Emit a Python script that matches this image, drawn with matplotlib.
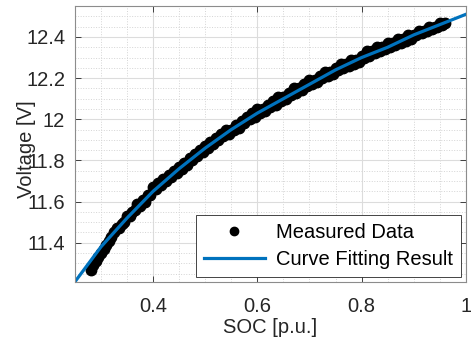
import numpy as np
import matplotlib
matplotlib.use("Agg")
import matplotlib.pyplot as plt
from matplotlib.ticker import MultipleLocator, FormatStrFormatter

plt.rcParams['font.family'] = ['Liberation Sans', 'DejaVu Sans']

# measured data (SOC, voltage), upper row of the band
soc_meas = [0.28, 0.29, 0.30, 0.31, 0.32, 0.33, 0.34, 0.35, 0.36, 0.37,
            0.38, 0.39, 0.40, 0.41, 0.42, 0.43, 0.44, 0.45, 0.46, 0.47,
            0.48, 0.49, 0.50, 0.51, 0.52, 0.53, 0.54, 0.55, 0.56, 0.57,
            0.58, 0.59, 0.60, 0.61, 0.62, 0.63, 0.64, 0.65, 0.66, 0.67,
            0.68, 0.69, 0.70, 0.71, 0.72, 0.73, 0.74, 0.75, 0.76, 0.77,
            0.78, 0.79, 0.80, 0.81, 0.82, 0.83, 0.84, 0.85, 0.86, 0.87,
            0.88, 0.89, 0.90, 0.91, 0.92, 0.93, 0.94, 0.95, 0.96]
v_meas = [11.27, 11.31, 11.35, 11.39, 11.43, 11.47, 11.49, 11.53, 11.55, 11.59,
          11.61, 11.63, 11.67, 11.69, 11.71, 11.73, 11.75, 11.77, 11.79, 11.81,
          11.83, 11.85, 11.87, 11.89, 11.91, 11.93, 11.95, 11.95, 11.97, 11.99,
          12.01, 12.03, 12.05, 12.05, 12.07, 12.09, 12.11, 12.11, 12.13, 12.15,
          12.15, 12.17, 12.19, 12.19, 12.21, 12.23, 12.23, 12.25, 12.27, 12.27,
          12.29, 12.29, 12.31, 12.33, 12.33, 12.35, 12.35, 12.37, 12.37, 12.39,
          12.39, 12.41, 12.41, 12.43, 12.43, 12.45, 12.45, 12.47, 12.47]

# measured data, lower row of the band
soc_meas2 = [0.285, 0.295, 0.305, 0.315, 0.325, 0.335, 0.345, 0.355, 0.365, 0.375,
             0.385, 0.395, 0.405, 0.415, 0.425, 0.435, 0.445, 0.455, 0.465, 0.475,
             0.485, 0.495, 0.505, 0.515, 0.525, 0.535, 0.545, 0.555, 0.565, 0.575,
             0.585, 0.595, 0.605, 0.615, 0.625, 0.635, 0.645, 0.655, 0.665, 0.675,
             0.685, 0.695, 0.705, 0.715, 0.725, 0.735, 0.745, 0.755, 0.765, 0.775,
             0.785, 0.795, 0.805, 0.815, 0.825, 0.835, 0.845, 0.855, 0.865, 0.875,
             0.885, 0.895, 0.905, 0.915, 0.925, 0.935, 0.945, 0.955]
v_meas2 = [11.29, 11.33, 11.37, 11.41, 11.45, 11.47, 11.50, 11.53, 11.56, 11.58,
           11.60, 11.63, 11.66, 11.68, 11.70, 11.72, 11.74, 11.76, 11.78, 11.80,
           11.82, 11.84, 11.86, 11.88, 11.90, 11.92, 11.93, 11.95, 11.96, 11.98,
           12.00, 12.01, 12.03, 12.04, 12.06, 12.07, 12.09, 12.10, 12.12, 12.13,
           12.14, 12.16, 12.17, 12.18, 12.20, 12.21, 12.22, 12.24, 12.25, 12.26,
           12.27, 12.28, 12.30, 12.31, 12.32, 12.33, 12.34, 12.35, 12.36, 12.37,
           12.38, 12.39, 12.41, 12.42, 12.43, 12.44, 12.45, 12.46]

# fitted curve
soc_fit = [0.25, 0.30, 0.35, 0.40, 0.45, 0.50, 0.55, 0.60,
           0.65, 0.70, 0.75, 0.80, 0.85, 0.90, 0.95, 1.00]
v_fit = [11.21, 11.38, 11.52, 11.65, 11.76, 11.86, 11.95, 12.03,
         12.10, 12.17, 12.24, 12.30, 12.35, 12.41, 12.46, 12.51]

fs = 14.5
fig = plt.figure(figsize=(4.71, 3.40), dpi=100)
ax = fig.add_axes([0.159, 0.171, 0.830, 0.811])

ax.plot(soc_meas + soc_meas2, v_meas + v_meas2, 'o', color='k',
        markersize=7.5, label='Measured Data')
ax.plot(soc_fit, v_fit, '-', color='#0072BD', linewidth=2.3,
        label='Curve Fitting Result')

ax.set_xlim(0.25, 1.0)
ax.set_ylim(11.21, 12.55)
ax.xaxis.set_major_locator(MultipleLocator(0.2))
ax.xaxis.set_minor_locator(MultipleLocator(0.05))
ax.yaxis.set_major_locator(MultipleLocator(0.2))
ax.yaxis.set_minor_locator(MultipleLocator(0.05))
ax.xaxis.set_major_formatter(FormatStrFormatter('%g'))
ax.yaxis.set_major_formatter(FormatStrFormatter('%g'))

ax.grid(which='major', color='#dcdcdc', linewidth=0.8)
ax.grid(which='minor', color='#d4d4d4', linewidth=0.7, linestyle=':')
ax.set_axisbelow(True)

ax.tick_params(which='major', direction='in', top=True, right=True,
               length=4, width=0.6, labelsize=fs, colors='#262626', pad=7)
ax.tick_params(axis='x', which='major', pad=11)
ax.tick_params(which='minor', length=0, top=True, right=True)
for s in ax.spines.values():
    s.set_color('#8c8c8c')
    s.set_linewidth(0.8)

ax.set_xlabel('SOC [p.u.]', fontsize=fs, color='#262626')
ax.set_ylabel('Voltage [V]', fontsize=fs, color='#262626')
ax.xaxis.set_label_coords(0.5, -0.13)
ax.yaxis.set_label_coords(-0.10, 0.48)

leg = ax.legend(loc='lower right', fontsize=fs, fancybox=False,
                framealpha=1, edgecolor='#262626', borderaxespad=0.25,
                handlelength=3.0, labelspacing=0.4, borderpad=0.4,
                handletextpad=0.55, markerscale=0.8)
leg.get_frame().set_linewidth(0.6)

fig.savefig('out.png', dpi=100)
